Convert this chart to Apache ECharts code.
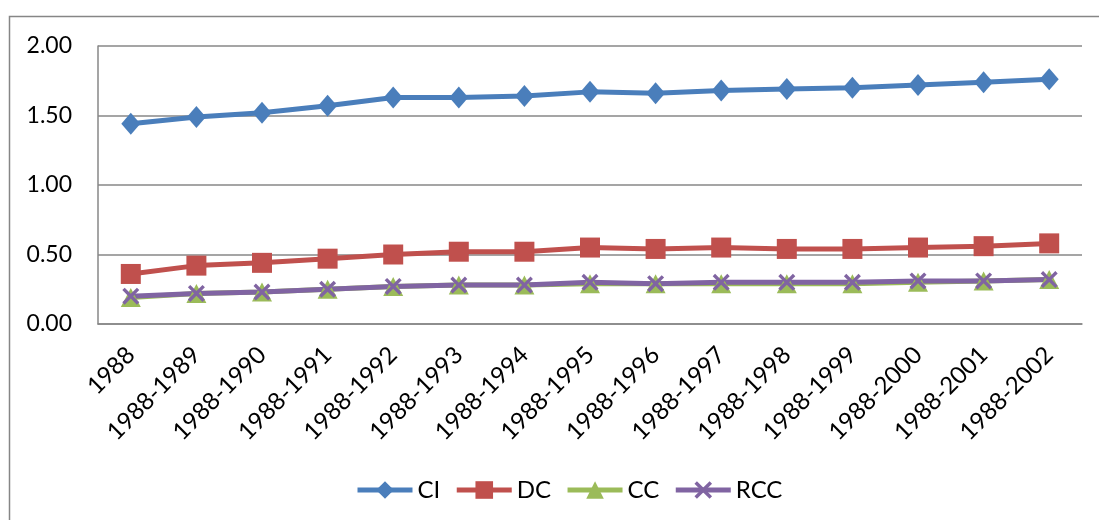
<!DOCTYPE html>
<html>
<head>
<meta charset="utf-8">
<script src="https://cdn.jsdelivr.net/npm/echarts@6/dist/echarts.min.js"></script>
<style>
  html, body { margin: 0; padding: 0; background: #ffffff; }
  #chart { width: 1099px; height: 520px; }
</style>
</head>
<body>
<div id="chart"></div>
<script>
// Period labels along the x axis
const categories = ['1988', '1988-1989', '1988-1990', '1988-1991', '1988-1992', '1988-1993',
  '1988-1994', '1988-1995', '1988-1996', '1988-1997', '1988-1998', '1988-1999',
  '1988-2000', '1988-2001', '1988-2002'];

// Index values per period
const ciValues  = [1.44, 1.49, 1.52, 1.57, 1.63, 1.63, 1.64, 1.67, 1.66, 1.68, 1.69, 1.70, 1.72, 1.74, 1.76];
const dcValues  = [0.36, 0.42, 0.44, 0.47, 0.50, 0.52, 0.52, 0.55, 0.54, 0.55, 0.54, 0.54, 0.55, 0.56, 0.58];
const ccValues  = [0.19, 0.22, 0.23, 0.25, 0.27, 0.28, 0.28, 0.29, 0.29, 0.29, 0.29, 0.29, 0.30, 0.31, 0.32];
const rccValues = [0.20, 0.22, 0.23, 0.25, 0.27, 0.28, 0.28, 0.30, 0.29, 0.30, 0.30, 0.30, 0.31, 0.31, 0.32];

const seriesNames = ['CI', 'DC', 'CC', 'RCC'];
const yTicks = { min: 0, max: 2, interval: 0.5 };

const FONT = 'Lato, "Open Sans", sans-serif';
// thin filled "x" marker
const crossPath = 'path://M0,1.4L1.4,0L5,3.6L8.6,0L10,1.4L6.4,5L10,8.6L8.6,10L5,6.4L1.4,10L0,8.6L3.6,5Z';

function lineSeries(name, data, color, symbol, size) {
  return {
    name: name,
    type: 'line',
    data: data,
    symbol: symbol,
    symbolSize: size,
    showAllSymbol: true,
    lineStyle: { color: color, width: 5 },
    itemStyle: { color: color },
    emphasis: { disabled: true },
    animation: false
  };
}

const chart = echarts.init(document.getElementById('chart'), null, { renderer: 'canvas' });
chart.setOption({
  backgroundColor: '#ffffff',
  animation: false,
  graphic: [{
    type: 'rect',
    shape: { x: 9.5, y: 16.5, width: 1120, height: 540 },
    style: { fill: 'none', stroke: '#868686', lineWidth: 1.5 },
    silent: true
  }],
  grid: { left: 98, right: 17, top: 46, bottom: 196, containLabel: false },
  legend: {
    data: seriesNames,
    top: 473,
    left: 350,
    itemWidth: 55,
    itemHeight: 22,
    itemGap: 14,
    lineStyle: { width: 5 },
    textStyle: { fontFamily: FONT, fontSize: 24, color: '#000000' }
  },
  xAxis: {
    type: 'category',
    data: categories,
    boundaryGap: true,
    axisLine: { show: true, lineStyle: { color: '#878787', width: 1.5 } },
    axisTick: { show: false },
    axisLabel: {
      interval: 0,
      rotate: 45,
      margin: 27,
      fontFamily: FONT,
      fontSize: 24,
      color: '#000000'
    },
    splitLine: { show: false }
  },
  yAxis: {
    type: 'value',
    min: yTicks.min,
    max: yTicks.max,
    interval: yTicks.interval,
    axisLine: { show: true, lineStyle: { color: '#878787', width: 1.5 } },
    axisTick: { show: false },
    axisLabel: {
      margin: 26,
      fontFamily: FONT,
      fontSize: 23,
      color: '#000000',
      formatter: v => v.toFixed(2)
    },
    splitLine: { show: true, lineStyle: { color: '#878787', width: 1.5 } }
  },
  series: [
    lineSeries('CI', ciValues, '#4A7EBB', 'diamond', [19, 22]),
    lineSeries('DC', dcValues, '#C0504D', 'rect', 20),
    lineSeries('CC', ccValues, '#9BBB59', 'triangle', [20, 19]),
    lineSeries('RCC', rccValues, '#8064A2', crossPath, 17)
  ]
});
</script>
</body>
</html>
